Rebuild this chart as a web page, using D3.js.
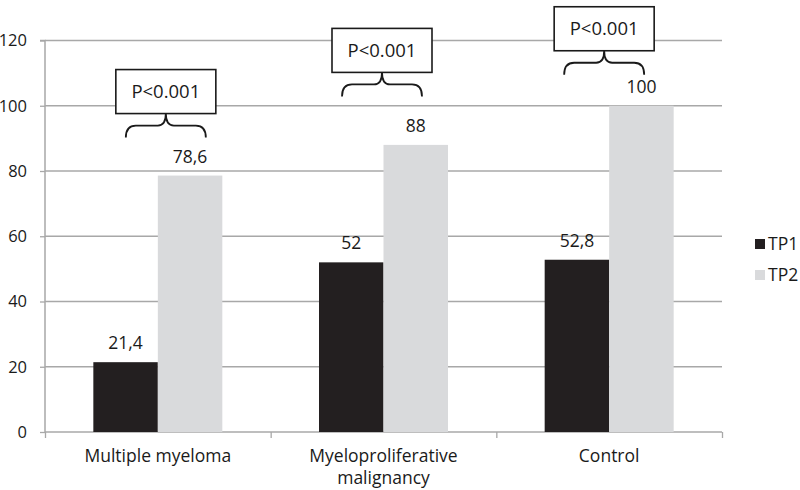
<!DOCTYPE html>
<html>
<head>
<meta charset="utf-8">
<script src="https://cdn.jsdelivr.net/npm/d3@7"></script>
<style>
  html, body { margin: 0; padding: 0; background: #fff; }
  svg { display: block; }
  text { font-family: "Open Sans", "Noto Sans", sans-serif; fill: #1a1a1a; }
</style>
</head>
<body>
<svg id="chart" width="800" height="490"></svg>
<script>
// ---- data ----
const categories = ["Multiple myeloma", "Myeloproliferative\nmalignancy", "Control"];
const seriesNames = ["TP1", "TP2"];
const tp1Values = [21.4, 52, 52.8];
const tp2Values = [78.6, 88, 100];
const valueLabels1 = ["21,4", "52", "52,8"];
const valueLabels2 = ["78,6", "88", "100"];
const yTicks = [0, 20, 40, 60, 80, 100, 120];
const pLabels = ["P<0.001", "P<0.001", "P<0.001"];

// ---- layout ----
const svg = d3.select("#chart");
const plotLeft = 45, plotRight = 722, plotTop = 40.5, plotBottom = 432;
const colors = ["#231f20", "#d9dadc"];
const fontSize = 17.5;

const y = d3.scaleLinear().domain([0, 120]).range([plotBottom, plotTop]);
const x0 = d3.scaleBand().domain(d3.range(categories.length)).range([plotLeft, plotRight]).padding(0);
const bw = x0.bandwidth();
const x1 = d3.scaleBand().domain(seriesNames).range([bw * 0.2142, bw * 0.7858]).padding(0);

// gridlines
svg.append("g").selectAll("line").data(yTicks.filter(d => d > 0)).join("line")
  .attr("x1", plotLeft).attr("x2", plotRight)
  .attr("y1", d => y(d)).attr("y2", d => y(d))
  .attr("stroke", "#a8a8a8").attr("stroke-width", 1.3);

// y axis
const yAxis = d3.axisLeft(y).tickValues(yTicks).tickSize(5).tickPadding(13).tickFormat(d3.format("d"));
const gy = svg.append("g").attr("transform", `translate(${plotLeft},0)`).call(yAxis);
gy.select(".domain").attr("stroke", "#a8a8a8").attr("stroke-width", 1.5).attr("d", `M-5,${plotTop}H0V${plotBottom}`);
gy.selectAll(".tick line").attr("stroke", "#a8a8a8").attr("stroke-width", 1.3);
gy.selectAll(".tick text").attr("font-size", 16.5).attr("fill", "#1a1a1a")
  .style("font-family", '"Open Sans", sans-serif');

// x axis
const xAxisScale = d3.scaleLinear().domain([0, categories.length]).range([plotLeft, plotRight]);
const gx = svg.append("g").attr("transform", `translate(0,${plotBottom})`)
  .call(d3.axisBottom(xAxisScale).tickValues(d3.range(categories.length + 1)).tickSize(6).tickFormat(""));
gx.select(".domain").attr("stroke", "#a8a8a8").attr("stroke-width", 1.5).attr("d", `M${plotLeft},0H${plotRight}`);
gx.selectAll(".tick line").attr("stroke", "#a8a8a8").attr("stroke-width", 1.3);

// category labels
categories.forEach((c, i) => {
  const t = svg.append("text")
    .attr("x", x0(i) + bw / 2).attr("y", 462)
    .attr("text-anchor", "middle").attr("font-size", fontSize);
  c.split("\n").forEach((line, j) => {
    t.append("tspan").attr("x", x0(i) + bw / 2).attr("dy", j === 0 ? 0 : 22).text(line);
  });
});

// bars
const allVals = [tp1Values, tp2Values];
const allLabels = [valueLabels1, valueLabels2];
seriesNames.forEach((s, si) => {
  const g = svg.append("g");
  g.selectAll("rect").data(allVals[si]).join("rect")
    .attr("x", (d, i) => x0(i) + x1(s))
    .attr("width", x1.bandwidth())
    .attr("y", d => y(d))
    .attr("height", d => plotBottom - y(d))
    .attr("fill", colors[si]);
  g.selectAll("text").data(allVals[si]).join("text")
    .attr("x", (d, i) => x0(i) + x1(s) + x1.bandwidth() / 2)
    .attr("y", d => y(d) - 13)
    .attr("text-anchor", "middle").attr("font-size", fontSize)
    .text((d, i) => allLabels[si][i]);
});

// significance annotations (box + curly brace)
const annotShiftX = [8, -1.5, -5];
const annotLift = [62, 72.5, 55];
pLabels.forEach((p, i) => {
  const cx = x0(i) + bw / 2 + annotShiftX[i];
  const boxBottom = y(tp2Values[i]) - annotLift[i];
  const bwid = 100, bh = 44;
  svg.append("rect")
    .attr("x", cx - bwid / 2).attr("y", boxBottom - bh)
    .attr("width", bwid).attr("height", bh)
    .attr("fill", "#fff").attr("stroke", "#1a1a1a").attr("stroke-width", 1.6);
  svg.append("text")
    .attr("x", cx).attr("y", boxBottom - bh / 2 + 6.5)
    .attr("text-anchor", "middle").attr("font-size", 18.5).text(p);
  const ty = boxBottom, hw = 40, h = 12;
  const path = `M${cx - hw},${ty + 2 * h} Q${cx - hw},${ty + h} ${cx - hw + 10},${ty + h}` +
    ` L${cx - 8},${ty + h} Q${cx},${ty + h} ${cx},${ty}` +
    ` Q${cx},${ty + h} ${cx + 8},${ty + h} L${cx + hw - 10},${ty + h}` +
    ` Q${cx + hw},${ty + h} ${cx + hw},${ty + 2 * h}`;
  svg.append("path").attr("d", path).attr("fill", "none")
    .attr("stroke", "#1a1a1a").attr("stroke-width", 1.8);
});

// legend
seriesNames.forEach((s, si) => {
  const ly = 239 + si * 31;
  svg.append("rect").attr("x", 755).attr("y", ly).attr("width", 10).attr("height", 10).attr("fill", colors[si]);
  svg.append("text").attr("x", 768).attr("y", ly + 10.5).attr("font-size", fontSize).text(s);
});
</script>
</body>
</html>
